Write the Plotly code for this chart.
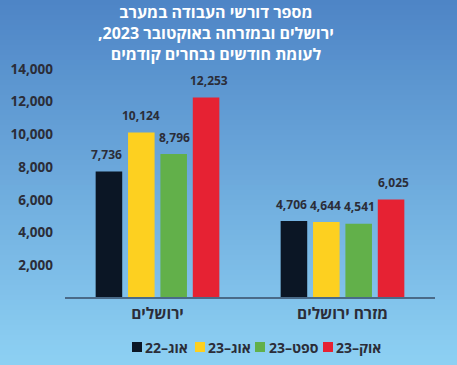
import plotly.graph_objects as go

categories = ["ירושלים", "מזרח ירושלים"]
series_names = ["אוג–22", "אוג–23", "ספט–23", "אוק–23"]
aug22 = [7736, 4706]
aug23 = [10124, 4644]
sep23 = [8796, 4541]
oct23 = [12253, 6025]
series_values = [aug22, aug23, sep23, oct23]
colors = ["#0b1625", "#fdd020", "#62b04a", "#e62233"]
y_ticks = [2000, 4000, 6000, 8000, 10000, 12000, 14000]
title_lines = [
    "מספר דורשי העבודה במערב",
    "ירושלים ובמזרחה באוקטובר 2023,\u200f",
    "לעומת חודשים נבחרים קודמים",
]

W, H = 457, 365
L, R, T, B = 65, 22, 69, 67
pw, ph = W - L - R, H - T - B
FONT = "Open Sans"
DARK = "#2b2d38"

def px_x(x):
    return (x - L) / pw

def px_y(y):
    return (H - B - y) / ph

fig = go.Figure()
for name, vals, col in zip(series_names, series_values, colors):
    fig.add_trace(go.Bar(x=categories, y=vals, name=name, marker_color=col,
                         marker_line_width=0, showlegend=False))

# value labels above bars
bar_step = 34
for i, vals in enumerate(series_values):
    for c, v in zip(categories, vals):
        fig.add_annotation(x=c, y=v, xref="x", yref="y", text=f"{v:,}",
                           showarrow=False, xshift=(i - 1.5) * bar_step,
                           yshift=17, yanchor="middle",
                           font=dict(family=FONT, size=12, color=DARK, weight="bold"))

# gradient background
shapes = []
n = 73
top = (0x4e, 0x85, 0xc6)
bot = (0x8d, 0xd0, 0xf3)
for k in range(n):
    t = k / (n - 1)
    c = tuple(round(top[j] + (bot[j] - top[j]) * t) for j in range(3))
    y0 = k * H / n
    y1 = (k + 1) * H / n + 1
    shapes.append(dict(type="rect", xref="paper", yref="paper",
                       x0=px_x(0), x1=px_x(W), y0=px_y(y1), y1=px_y(y0),
                       fillcolor="rgb(%d,%d,%d)" % c, line_width=0, layer="below"))

# baseline
shapes.append(dict(type="line", xref="paper", yref="paper", x0=0, x1=1,
                   y0=0, y1=0, line=dict(color="#4a6a88", width=2), layer="above"))

# legend (custom)
leg_y = 347
leg_items = [(132, 144), (195, 207), (255, 268), (323, 335)]
for (sx, tx), name, col in zip(leg_items, series_names, colors):
    shapes.append(dict(type="rect", xref="paper", yref="paper",
                       x0=px_x(sx), x1=px_x(sx + 10), y0=px_y(leg_y + 5), y1=px_y(leg_y - 5),
                       fillcolor=col, line_width=0, layer="above"))
    fig.add_annotation(x=px_x(tx - 1), y=px_y(leg_y), xref="paper", yref="paper",
                       text=name, showarrow=False, xanchor="left", yanchor="middle",
                       font=dict(family=FONT, size=14, color=DARK, weight="bold"))

# title
fig.add_annotation(x=px_x(216), y=px_y(33), xref="paper", yref="paper",
                   text="<br>".join(title_lines), showarrow=False,
                   xanchor="center", yanchor="middle", align="center",
                   font=dict(family=FONT, size=16, color="white", weight="bold"))

fig.update_layout(
    width=W, height=H,
    margin=dict(l=L, r=R, t=T, b=B, pad=0),
    paper_bgcolor="#6aa8dc", plot_bgcolor="rgba(0,0,0,0)",
    barmode="group", bargap=0.30, bargroupgap=0.18,
    shapes=shapes, showlegend=False,
    xaxis=dict(showgrid=False, zeroline=False, showline=False, ticks="",
               tickfont=dict(family=FONT, size=15.5, color=DARK, weight="bold"),
               ticklabelstandoff=4),
    yaxis=dict(range=[0, 14000], tickvals=y_ticks, tickformat=",",
               showgrid=False, zeroline=False, showline=False, ticks="",
               ticklabelstandoff=11,
               tickfont=dict(family=FONT, size=13.5, color=DARK, weight="bold")),
)

fig.write_html("out.html")
